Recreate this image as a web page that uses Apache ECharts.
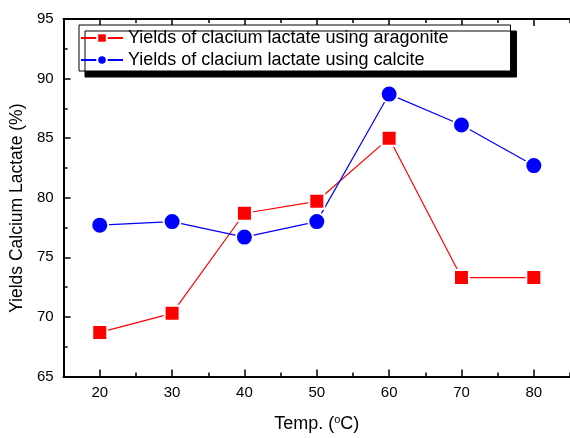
<!DOCTYPE html>
<html>
<head>
<meta charset="utf-8">
<script src="https://cdn.jsdelivr.net/npm/echarts@6/dist/echarts.min.js"></script>
<style>
  html, body { margin: 0; padding: 0; background: #fff; }
  #chart { width: 570px; height: 438px; }
</style>
</head>
<body>
<div id="chart"></div>
<script>
// data
const temps = [20, 30, 40, 50, 60, 70, 80]
const aragonite = [68.7, 70.3, 78.7, 79.7, 85.0, 73.3, 73.3]
const calcite = [77.7, 78.0, 76.7, 78.0, 88.7, 86.1, 82.7]
const seriesNames = ['Yields of clacium lactate using aragonite', 'Yields of clacium lactate using calcite']

const font = 'Liberation Sans, Arial, sans-serif'

const pairs = (xs, ys) => xs.map((x, i) => [x, ys[i]])

// x ticks: interval 10 starting at 15 gives the short ticks (25, 35 ...),
// the minor ticks fall on 20, 30 ... and get the long length
const xAxisCommon = {
  type: 'value',
  min: 15,
  max: 85,
  interval: 10,
  axisLine: { lineStyle: { color: '#000', width: 2 } },
  axisTick: { inside: true, length: 4, lineStyle: { color: '#000', width: 1.5 } },
  minorTick: { show: true, splitNumber: 2, length: 7, lineStyle: { color: '#000', width: 1.5 } },
  splitLine: { show: false }
}

const option = {
  animation: false,
  backgroundColor: '#fff',
  grid: { left: 62, right: 0, top: 19, bottom: 55 },
  legend: {
    data: seriesNames,
    orient: 'vertical',
    left: 79,
    top: 25,
    itemWidth: 42,
    itemHeight: 12,
    itemGap: 4,
    padding: [4, 62, 2, 1],
    backgroundColor: '#fff',
    borderColor: '#000',
    borderWidth: 1,
    shadowColor: '#000',
    shadowBlur: 0,
    shadowOffsetX: 6,
    shadowOffsetY: 6,
    textStyle: { fontFamily: font, fontSize: 18, color: '#000' }
  },
  xAxis: [
    Object.assign({}, xAxisCommon, {
      name: 'Temp. ({sup|o}C)',
      nameLocation: 'middle',
      nameGap: 38,
      nameTextStyle: {
        fontFamily: font, fontSize: 18, color: '#000',
        rich: { sup: { fontFamily: font, fontSize: 11, verticalAlign: 'top', padding: [0, 0, 8, 0] } }
      },
      axisLabel: {
        fontFamily: font, fontSize: 15, color: '#000', margin: 9,
        customValues: temps
      }
    }),
    Object.assign({}, xAxisCommon, {
      position: 'top',
      axisLabel: { show: false }
    })
  ],
  yAxis: {
    type: 'value',
    min: 65,
    max: 95,
    interval: 5,
    name: 'Yields Calcium Lactate (%)',
    nameLocation: 'middle',
    nameGap: 27,
    nameTextStyle: { fontFamily: font, fontSize: 17.5, color: '#000', padding: [0, 21, 0, 0] },
    axisLine: { lineStyle: { color: '#000', width: 2 } },
    axisTick: { inside: true, length: 7, lineStyle: { color: '#000', width: 1.5 } },
    minorTick: { show: true, splitNumber: 2, length: 4, lineStyle: { color: '#000', width: 1.5 } },
    splitLine: { show: false },
    axisLabel: { fontFamily: font, fontSize: 15, color: '#000', margin: 10 }
  },
  series: [
    {
      name: seriesNames[0],
      type: 'line',
      data: pairs(temps, aragonite),
      symbol: 'rect',
      symbolSize: 15,
      color: '#ff0000',
      lineStyle: { width: 1.2, color: '#ff0000' },
      itemStyle: { color: '#ff0000', borderColor: '#fff', borderWidth: 2 }
    },
    {
      name: seriesNames[1],
      type: 'line',
      data: pairs(temps, calcite),
      symbol: 'circle',
      symbolSize: 17,
      color: '#0000ff',
      lineStyle: { width: 1.2, color: '#0000ff' },
      itemStyle: { color: '#0000ff', borderColor: '#fff', borderWidth: 2 }
    }
  ]
}

const myChart = echarts.init(document.getElementById('chart'))
myChart.setOption(option)
</script>
</body>
</html>
